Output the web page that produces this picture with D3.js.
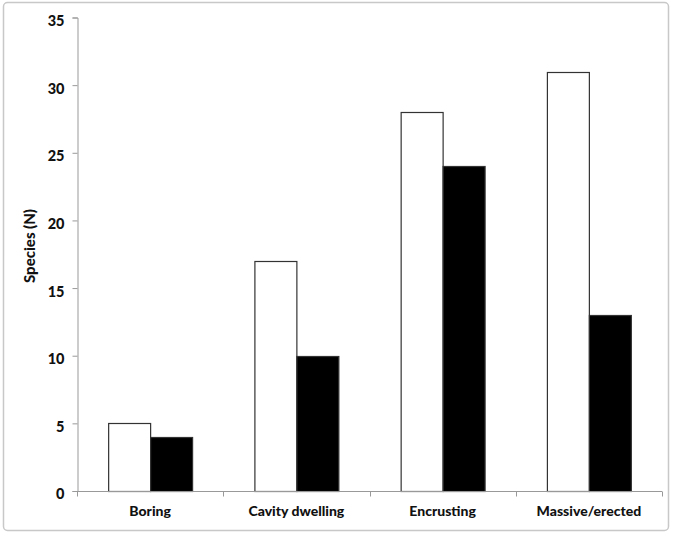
<!DOCTYPE html>
<html lang="en">
<head>
<meta charset="UTF-8">
<title>Species by growth form</title>
<script src="https://d3js.org/d3.v7.min.js"></script>
<style>
    body { margin: 0; background: #fff; }
    svg text { font-family: Lato, "Liberation Sans", sans-serif; font-weight: 900; fill: #111; }
</style>
</head>
<body>
<div id="chart"></div>
<script>
const categories = ["Boring", "Cavity dwelling", "Encrusting", "Massive/erected"];
const whiteValues = [5, 17, 28, 31];
const blackValues = [4, 10, 24, 13];
const yTicks = [0, 5, 10, 15, 20, 25, 30, 35];

const width = 675, height = 535;
const margin = {left: 77, right: 13, top: 17.5, bottom: 44};

const svg = d3.select("#chart").append("svg")
    .attr("width", width)
    .attr("height", height);

// outer frame
svg.append("rect")
    .attr("x", 3.5).attr("y", 2.5)
    .attr("width", 665).attr("height", 528)
    .attr("rx", 4)
    .attr("fill", "#fff")
    .attr("stroke", "#c8c8c8")
    .attr("stroke-width", 1.5);

const x = d3.scaleBand()
    .domain(categories)
    .range([margin.left, width - margin.right])
    .paddingInner(0.426)
    .paddingOuter(0.213);

const xSub = d3.scaleBand()
    .domain(["white", "black"])
    .range([0, x.bandwidth()]);

const y = d3.scaleLinear()
    .domain([0, 35])
    .range([height - margin.bottom, margin.top]);

const rows = categories.map((c, i) => ({cat: c, white: whiteValues[i], black: blackValues[i]}));

const groups = svg.selectAll("g.cat")
    .data(rows)
    .enter().append("g")
    .attr("class", "cat")
    .attr("transform", d => "translate(" + x(d.cat) + ",0)");

groups.selectAll("rect")
    .data(d => [{k: "white", v: d.white}, {k: "black", v: d.black}])
    .enter().append("rect")
    .attr("x", d => xSub(d.k) + 0.5)
    .attr("y", d => Math.round(y(d.v)) + 0.5)
    .attr("width", xSub.bandwidth())
    .attr("height", d => y(0) - Math.round(y(d.v)))
    .attr("fill", d => d.k === "white" ? "#fff" : "#000")
    .attr("stroke", "#333")
    .attr("stroke-width", 1.2);

// y axis
const yAxis = svg.append("g")
    .attr("transform", "translate(" + (margin.left + 0.5) + ",0)")
    .call(d3.axisLeft(y).tickValues(yTicks).tickSize(5).tickPadding(8));
yAxis.select(".domain").attr("stroke", "#999");
yAxis.selectAll(".tick line").attr("stroke", "#999");
yAxis.selectAll(".tick text")
    .attr("font-size", 14.5)
    .attr("dy", "0.55em");

// x axis
const xAxisY = y(0) + 0.5;
svg.append("line")
    .attr("x1", margin.left).attr("x2", width - margin.right)
    .attr("y1", xAxisY).attr("y2", xAxisY)
    .attr("stroke", "#999");

const boundaries = d3.range(categories.length + 1)
    .map(i => margin.left + i * x.step());
svg.selectAll("line.xt")
    .data(boundaries)
    .enter().append("line")
    .attr("class", "xt")
    .attr("x1", d => Math.round(d) + 0.5).attr("x2", d => Math.round(d) + 0.5)
    .attr("y1", xAxisY).attr("y2", xAxisY + 5)
    .attr("stroke", "#999");

svg.selectAll("text.xl")
    .data(categories)
    .enter().append("text")
    .attr("class", "xl")
    .attr("x", d => x(d) + x.bandwidth() / 2)
    .attr("y", 516)
    .attr("text-anchor", "middle")
    .attr("font-size", 14)
    .text(d => d);

// y title
svg.append("text")
    .attr("transform", "translate(35,246) rotate(-90)")
    .attr("text-anchor", "middle")
    .attr("font-size", 15)
    .text("Species (N)");
</script>
</body>
</html>
